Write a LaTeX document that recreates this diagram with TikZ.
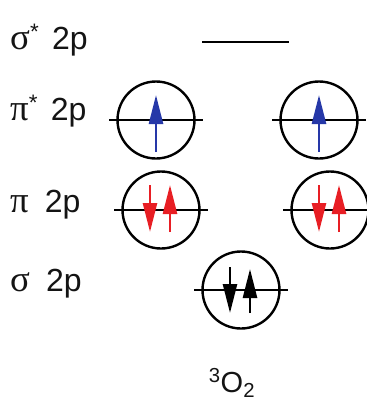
\documentclass[tikz,border=0pt]{standalone}
\usepackage{fontspec}
\setmainfont{Liberation Sans}
\newfontfamily\greekfont[Scale=1.15]{Liberation Serif}
\usetikzlibrary{arrows.meta,positioning,calc}
\definecolor{mo-blue}{RGB}{38,56,168}
\definecolor{mo-red}{RGB}{232,30,36}
\definecolor{mo-text}{RGB}{20,20,20}

\begin{document}
\begin{tikzpicture}[
    x=1pt, y=-1pt,
    font=\fontsize{32}{38}\selectfont,
    text=mo-text
  ]

  % Styles for orbitals, levels and spins
  \tikzset{
    orbital/.style={draw=black, circle, line width=2.4pt, minimum size=77pt, inner sep=0pt},
    level/.style={draw=black, line width=2pt},
    rowname/.style={anchor=base west, inner sep=0pt},
    spin/.style={line width=2.6pt, -{Triangle[length=29pt,width=14pt]}}
  }

  \useasboundingbox (0,0) rectangle (367,408);

  % Row labels
  \node (lbl-sigstar) [rowname] at (10,49)  {{\greekfont σ}\rlap{\textsuperscript{*}}\hspace{22pt}2p};
  \node (lbl-pistar)  [rowname] at (10,120) {{\greekfont π}\rlap{\textsuperscript{*}}\hspace{22pt}2p};
  \node (lbl-pi)      [rowname] at (10,212) {{\greekfont π}\hspace{16pt}2p};
  \node (lbl-sigma)   [rowname] at (10,291) {{\greekfont σ}\hspace{16pt}2p};

  % Empty sigma* level
  \coordinate (sigstar-l) at (202,42);
  \coordinate (sigstar-r) at (289,42);
  \draw[level] (sigstar-l) -- (sigstar-r);

  % Orbital circles
  \node (pistar-l) [orbital] at (156,120) {};
  \node (pistar-r) [orbital] at (319,120) {};
  \node (pi-l)     [orbital] at (161,210) {};
  \node (pi-r)     [orbital] at (330,210) {};
  \node (sigma)    [orbital] at (241,290) {};

  % Level lines through each circle
  \foreach \o in {pistar-l,pistar-r,pi-l,pi-r,sigma}
    \draw[level] ($(\o.west)+(-7,0)$) -- ($(\o.east)+(7,0)$);

  % Unpaired electrons in pi*
  \foreach \o in {pistar-l,pistar-r}
    \draw[spin, mo-blue] ($(\o)+(0,32)$) -- ($(\o)+(0,-25)$);

  % Paired electrons in pi
  \foreach \o in {pi-l,pi-r} {
    \draw[spin, mo-red] ($(\o)+(-11,-25)$) -- ($(\o)+(-11,22)$);
    \draw[spin, mo-red] ($(\o)+(9,22)$) -- ($(\o)+(9,-25)$);
  }

  % Paired electrons in sigma
  \draw[spin, black] ($(sigma)+(-11,-23)$) -- ($(sigma)+(-11,23)$);
  \draw[spin, black] ($(sigma)+(9,23)$) -- ($(sigma)+(9,-21)$);

  % Molecule name
  \node (molecule) [anchor=base, inner sep=0pt, font=\fontsize{29}{34}\selectfont] at (232,392) {\textsuperscript{3}O\textsubscript{2}};

\end{tikzpicture}
\end{document}
